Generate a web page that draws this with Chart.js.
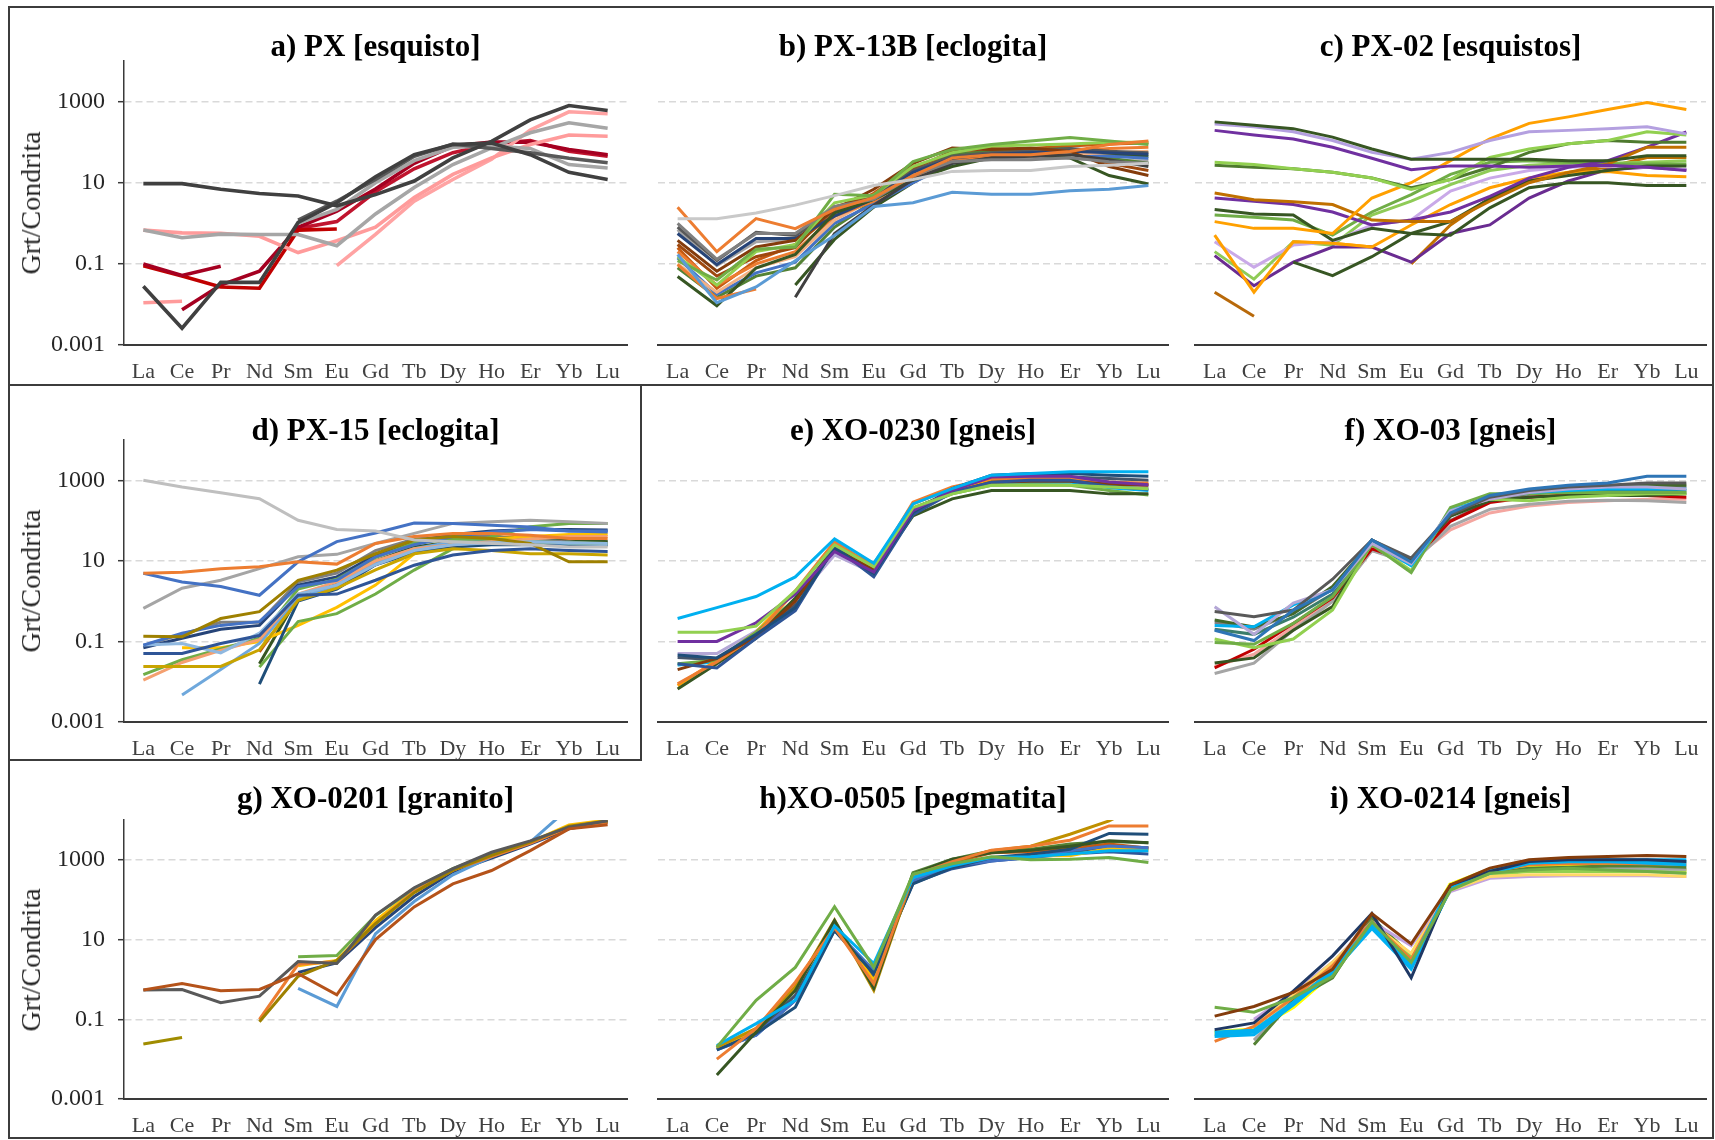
<!DOCTYPE html>
<html>
<head>
<meta charset="utf-8">
<title>Grt/Condrita - REE</title>
<script src="https://cdn.jsdelivr.net/npm/chart.js@4.4.1/dist/chart.umd.min.js"></script>
<style>
    html, body { margin: 0; padding: 0; background: #fff; }
    #fig { position: relative; width: 1715px; height: 1140px; overflow: hidden; font-family: "Liberation Serif", "Times New Roman", serif; }
    .line { position: absolute; background: #3c3c3c; }
    .panel { position: absolute; }
    .ttl { position: absolute; width: 600px; margin-left: -300px; text-align: center; font-weight: bold; font-size: 31px; line-height: 34px; color: #000; white-space: nowrap; }
    .ytl { position: absolute; font-size: 28px; color: #262626; white-space: nowrap; transform: translate(-50%, -50%) rotate(-90deg); }
</style>
</head>
<body>
<div id="fig"></div>
<script>
const elements = ['La', 'Ce', 'Pr', 'Nd', 'Sm', 'Eu', 'Gd', 'Tb', 'Dy', 'Ho', 'Er', 'Yb', 'Lu'];
const yTickValues = [0.001, 0.1, 10, 1000];
const yTitle = 'Grt/Condrita';
const panelTitles = [
    'a) PX [esquisto]', 'b) PX-13B [eclogita]', 'c) PX-02 [esquistos]',
    'd) PX-15 [eclogita]', 'e) XO-0230 [gneis]', 'f) XO-03 [gneis]',
    'g) XO-0201 [granito]', 'h)XO-0505 [pegmatita]', 'i) XO-0214 [gneis]'
];
const _ = null;

// a) PX
const aValues = [
    [9.5, 9.5, 6.9, 5.4, 4.7, 2.7, 5.1, 11, 41, 105, 355, 800, 600],
    [0.028, 0.0026, 0.035, 0.035, 1.05, 3.2, 14, 49, 87, 95, 49, 18, 12],
    [_, _, _, _, 1.2, 3.5, 12, 45, 90, 70, 55, 40, 31],
    [0.68, 0.44, 0.54, 0.53, 0.53, 0.28, 1.7, 7.6, 28, 72, 170, 300, 220],
    [_, _, _, _, 1.0, 2.2, 10, 35, 75, 80, 70, 28, 23],
    [0.68, 0.58, 0.57, 0.48, 0.19, 0.37, 0.8, 4.3, 16, 41, 87, 150, 140],
    [_, _, _, _, _, 0.09, 0.53, 3.5, 12, 38, 200, 560, 500],
    [0.011, 0.012, _, _, _, _, _, _, _, _, _, _, _],
    [0.1, 0.052, 0.087, _, _, _, _, _, _, _, _, _, _],
    [0.09, 0.05, 0.027, 0.025, 0.68, 0.72, _, _, _, _, _, _, _],
    [_, 0.0074, 0.03, 0.066, 0.8, 2.0, 7, 30, 80, 100, 100, 66, 49],
    [_, _, _, _, 0.75, 1.1, 6, 22, 55, 90, 110, 60, 45]
];
const aColors = ['#404040', '#404040', '#595959', '#a6a6a6', '#a6a6a6', '#ff9b9b', '#ffa3a3', '#ff9b9b', '#a50021', '#c00000', '#a50021', '#c0142e'];

// b) PX-13B
const bValues = [
    [1.3, 1.3, 1.8, 2.8, 4.8, 8.5, 12, 19, 20, 20, 25, 27, 30],
    [0.17, 0.011, 0.027, 0.12, 0.5, 2.6, 3.2, 5.8, 5.2, 5.2, 6.3, 6.9, 8.5],
    [2.5, 0.2, 1.3, 0.74, 2.2, 4.3, 15, 41, 49, 49, 59, 87, 107],
    [0.096, 0.014, 0.024, _, _, _, _, _, _, _, _, _, _],
    [1.0, 0.13, 0.56, 0.56, 2.6, 3.9, 15, 33, 37, 37, 41, 33, 30],
    [_, _, _, 0.015, 0.56, 2.8, 12, 30, 41, 45, 49, 37, 25],
    [0.049, 0.0093, 0.079, 0.17, 1.8, 3.9, 11.5, 25, 41, 49, 41, 15, 9.3],
    [0.12, 0.04, 0.23, 0.26, 5.2, 4.8, 33, 66, 87, 107, 130, 107, 87],
    [0.15, 0.03, 0.2, 0.3, 3.2, 5, 25, 55, 80, 85, 90, 100, 100],
    [0.38, 0.066, 0.26, 0.38, 2.2, 6.9, 30, 72, 66, 72, 59, 25, 15],
    [0.56, 0.096, 0.42, 0.42, 1.5, 4.0, 18, 40, 50, 55, 60, 55, 50],
    [0.8, 0.12, 0.6, 0.5, 2.0, 4.5, 20, 45, 55, 60, 70, 60, 55],
    [0.2, 0.03, 0.1, 0.2, 1.5, 3.5, 14, 35, 45, 50, 60, 70, 75],
    [0.1, 0.02, 0.08, 0.15, 1.2, 4, 16, 38, 45, 45, 50, 55, 60],
    [0.14, 0.018, 0.06, 0.11, 1.0, 3.0, 10, 30, 40, 45, 50, 45, 40],
    [0.3, 0.05, 0.15, 0.25, 2.5, 5, 22, 60, 70, 65, 55, 30, 20],
    [0.08, 0.015, 0.05, 0.08, 0.8, 3.5, 18, 50, 60, 65, 70, 40, 30],
    [_, _, _, 0.03, 0.4, 2.5, 10, 35, 45, 45, 55, 50, 45],
    [0.25, 0.025, 0.12, 0.3, 1.8, 5.5, 25, 50, 60, 70, 80, 90, 95],
    [0.7, 0.09, 0.35, 0.4, 1.5, 3.5, 15, 35, 40, 40, 40, 35, 35]
];
const bColors = ['#c9c9c9', '#5b9bd5', '#ed7d31', '#ed7d31', '#7f7f7f', '#404040', '#375623', '#70ad47', '#92d050', '#843c0c',
    '#264478', '#595959', '#ed7d31', '#f4b183', '#4472c4', '#9e480e', '#548235', '#375623', '#c55a11', '#a5a5a5'];

// c) PX-02
const cValues = [
    [316, 260, 215, 133, 68, 38, 38, 38, 38, 35, 35, 46, 46],
    [280, 240, 180, 110, 56, 38, 56, 110, 180, 195, 215, 240, 160],
    [195, 150, 120, 75, 40, 21, 26, 26, 24, 26, 27, 24, 20],
    [32, 28, 22, 18, 13, 6.8, 12, 42, 68, 91, 110, 180, 150],
    [27, 24, 22, 18, 13, 7.5, 12, 24, 56, 91, 110, 100, 100],
    [1.1, 0.75, 0.75, 0.56, 4.2, 10, 35, 121, 290, 420, 640, 950, 640],
    [5.6, 3.8, 3.4, 2.9, 1.2, 1.1, 1.1, 3.5, 10, 18, 29, 75, 75],
    [4.2, 3.5, 2.9, 1.9, 0.91, 1.2, 1.9, 4.6, 13, 24, 35, 75, 178],
    [2.2, 1.7, 1.6, 0.38, 0.75, 0.56, 0.51, 2.4, 7.5, 10, 10, 8.5, 8.5],
    [_, _, 0.11, 0.051, 0.15, 0.56, 1.1, 4, 11, 15, 20, 26, 26],
    [1.6, 1.4, 1.2, 0.51, 1.9, 5.1, 16, 32, 35, 32, 29, 29, 29],
    [0.51, 0.02, 0.35, 0.32, 0.26, 0.91, 2.9, 7.5, 13, 18, 19, 15, 14],
    [0.35, 0.083, 0.29, 0.35, 0.91, 1.2, 6.2, 13, 20, 24, 26, 24, 21],
    [0.16, 0.029, 0.11, 0.26, 0.26, 0.11, 0.56, 0.91, 4.2, 11, 21, 24, 21],
    [0.2, 0.042, 0.35, 0.29, 1.6, 3.5, 9, 20, 27, 30, 30, 32, 35],
    [0.02, 0.0051, _, _, _, _, _, _, _, _, _, _, _],
    [_, _, _, _, _, 0.1, 0.91, 4.2, 11, 18, 24, 42, 42],
    [_, _, 0.35, 0.32, 0.26, _, _, _, _, _, _, _, _]
];
const cColors = ['#375623', '#b4a0e0', '#7030a0', '#92d050', '#4e7a2e', '#ffa000', '#c07000', '#7030a0', '#375623',
    '#375623', '#70ad47', '#ffa000', '#c9a9e8', '#6a2c91', '#8fcb57', '#b8690a', '#c07000', '#ffa000'];

// d) PX-15
const dValues = [
    [1000, 680, 490, 350, 102, 60, 55, 33, 30, 27, 25, 22, 22],
    [4.9, 5.2, 6.4, 7.1, 9.5, 8.3, 27, 40, 48, 48, 43, 36, 36],
    [4.9, 3.0, 2.3, 1.4, 9.5, 30, 49, 87, 85, 77, 69, 55, 52],
    [0.66, 2.1, 3.3, 6.4, 12.6, 14.5, 27, 48, 85, 93, 102, 93, 85],
    [0.135, 0.13, 0.37, 0.55, 3.3, 5.9, 15, 33, 40, 36, 27, 9.5, 9.5],
    [0.081, 0.16, 0.25, 0.31, 2.3, 3.3, 12.6, 25, 40, 52, 60, 55, 55],
    [0.05, 0.05, 0.089, 0.14, 1.4, 1.5, 3.3, 7.8, 14, 18, 20, 18, 17],
    [0.081, 0.089, 0.052, 0.16, 1.5, 2.5, 8, 18, 25, 28, 30, 28, 27],
    [0.024, 0.024, 0.024, 0.062, 1.05, 2.1, 6, 15, 20, 18, 15, 15, 14],
    [0.011, 0.03, 0.06, 0.11, 1.5, 3, 10, 20, 25, 30, 35, 40, 40],
    [0.015, 0.035, 0.065, 0.12, 2.0, 3.5, 12, 28, 35, 35, 30, 28, 27],
    [_, 0.0047, 0.02, 0.089, 1.2, 2.5, 9, 20, 30, 30, 30, 27, 25],
    [_, _, _, 0.0087, 1.0, 2, 8, 16, 22, 25, 25, 25, 25],
    [_, _, _, 0.023, 0.31, 0.49, 1.5, 5.9, 20, 40, 70, 85, 85],
    [_, 0.07, 0.07, 0.1, 0.25, 0.7, 2.5, 15, 30, 35, 40, 45, 45],
    [_, _, _, 0.028, 1.3, 3, 10, 22, 30, 35, 40, 35, 30],
    [_, _, _, 0.055, 1.2, 2.5, 8, 20, 30, 30, 28, 25, 25],
    [0.07, 0.12, 0.2, 0.25, 2.5, 4, 14, 30, 45, 55, 60, 60, 58],
    [0.08, 0.15, 0.3, 0.3, 3, 5, 18, 35, 40, 40, 35, 30, 30]
];
const dColors = ['#bfbfbf', '#ed7d31', '#4472c4', '#a5a5a5', '#9e8000', '#4472c4', '#2f5597', '#8fb8e0', '#c9a400', '#f4a070',
    '#70ad47', '#6fa8dc', '#1f4e79', '#70ad47', '#ffc000', '#375623', '#c55a11', '#264478', '#7f7f7f'];

// e) XO-0230
const eValues = [
    [0.37, 0.69, 1.3, 4.0, 35, 8.7, 260, 620, 1340, 1470, 1620, 1620, 1620],
    [0.17, 0.17, 0.24, 1.8, 25, 7.1, 210, 460, 750, 750, 750, 680, 620],
    [0.1, 0.1, 0.29, 1.5, 17, 5.3, 175, 560, 1200, 1260, 1260, 910, 780],
    [0.046, 0.039, 0.15, 0.69, 21, 4.8, 160, 620, 1340, 1470, 1470, 1340, 1260],
    [0.028, 0.022, 0.12, 0.58, 22, 4.0, 140, 500, 900, 1000, 1000, 700, 600],
    [0.02, 0.038, 0.13, 1.0, 20, 6, 200, 500, 900, 950, 950, 800, 750],
    [0.0089, 0.031, 0.14, 1.8, 30, 7.1, 285, 680, 1100, 1100, 1100, 910, 850],
    [0.0066, 0.028, 0.12, 1.2, 21, 5.3, 130, 345, 560, 560, 560, 460, 460],
    [0.028, 0.034, 0.17, 1.1, 21, 8.7, 190, 460, 750, 780, 750, 560, 430],
    [0.008, 0.034, 0.17, 1.7, 28, 6.5, 260, 620, 1000, 1000, 1000, 850, 800],
    [0.026, 0.031, 0.13, 0.63, 30, 6, 200, 510, 900, 900, 900, 650, 560],
    [0.05, 0.05, 0.18, 1.0, 14, 5, 180, 500, 900, 1000, 1000, 800, 700],
    [0.04, 0.035, 0.15, 0.8, 18, 5, 170, 550, 1100, 1200, 1200, 1100, 1000]
];
const eColors = ['#00b0f0', '#92d050', '#7030a0', '#1f4e79', '#2f5597', '#843c0c', '#ed7d31', '#375623', '#70ad47', '#ffa000',
    '#00b0f0', '#b4a7d6', '#44546a'];

// f) XO-03
const fValues = [
    [0.19, 0.105, 0.6, 1.9, 33, 9.3, 155, 420, 610, 750, 860, 1260, 1260],
    [0.55, 0.41, 0.6, 3.5, 33, 11.7, 140, 380, 560, 680, 750, 860, 860],
    [0.73, 0.15, 0.89, 1.9, 27, 8.4, 175, 340, 500, 610, 680, 680, 610],
    [0.25, 0.23, 0.81, 1.9, 30, 7.6, 175, 380, 500, 560, 610, 610, 610],
    [0.094, 0.085, 0.28, 1.3, 25, 5.1, 210, 460, 460, 500, 500, 500, 500],
    [0.115, 0.07, 0.115, 0.6, 27, 5.7, 190, 340, 310, 380, 420, 460, 460],
    [0.029, 0.039, 0.19, 0.73, 33, 10.2, 130, 310, 380, 420, 420, 420, 460],
    [0.022, 0.064, 0.28, 1.2, 20, 9.3, 96, 280, 380, 440, 480, 420, 380],
    [0.016, 0.029, 0.19, 0.98, 18, 8.4, 72, 190, 255, 300, 320, 310, 280],
    [0.024, 0.048, 0.23, 1.07, 18, 10.2, 59, 155, 230, 280, 310, 340, 340],
    [0.34, 0.23, 0.49, 2.3, 30, 10, 150, 400, 550, 650, 700, 750, 750],
    [0.2, 0.15, 0.4, 1.5, 25, 8, 130, 350, 480, 520, 560, 560, 560],
    [0.3, 0.2, 0.5, 2.0, 28, 9, 100, 300, 450, 550, 600, 650, 700]
];
const fColors = ['#2e75b6', '#595959', '#b4a7d6', '#00b0f0', '#70ad47', '#92d050', '#375623', '#c00000', '#a5a5a5', '#f4a6a0',
    '#43682b', '#3b7d6b', '#7f7f7f'];

// g) XO-0201
const gValues = [
    [0.54, 0.79, 0.52, 0.56, 1.4, 0.41, 10, 66, 250, 540, 1700, 6000, 7600],
    [0.54, 0.56, 0.26, 0.38, 2.8, 2.5, 41, 200, 600, 1550, 3000, 6600, 9600],
    [0.024, 0.035, _, _, _, _, _, _, _, _, _, _, _],
    [_, _, _, 0.087, 1.2, 3.0, 25, 150, 550, 1300, 2800, 7000, 9500],
    [_, _, _, 0.1, 2.4, 2.8, 25, 160, 550, 1200, 2600, 6500, 8800],
    [_, _, _, _, 0.6, 0.21, 14, 90, 420, 1200, 2800, 20000, 20000],
    [_, _, _, _, 3.7, 4.0, 40, 190, 600, 1400, 2800, 6500, 9000],
    [_, _, _, _, 2.2, 3.0, 30, 170, 550, 1300, 2800, 7500, 10000],
    [_, _, _, _, 1.5, 2.6, 20, 120, 500, 1100, 2500, 6000, 9000]
];
const gColors = ['#b5531a', '#595959', '#a08c00', '#9e8000', '#ed7d31', '#5b9bd5', '#70ad47', '#ffc000', '#264478'];

// h) XO-0505
const hValues = [
    [_, 0.02, 0.3, 2.0, 67, 2.0, 440, 800, 1200, 1000, 1040, 1140, 860],
    [_, 0.022, 0.078, 0.3, 22, 2.5, 360, 710, 1140, 1200, 1400, 1700, 1700],
    [_, 0.01, 0.059, 0.85, 20, 0.78, 400, 900, 1750, 2200, 3100, 7100, 7100],
    [_, 0.004, 0.048, 0.53, 30, 0.6, 440, 1040, 1500, 1750, 2200, 3000, 2700],
    [_, 0.02, 0.059, 0.65, 31, 0.53, 400, 940, 1700, 2200, 4400, 9500, 30000],
    [_, 0.017, 0.044, 0.2, 17, 1.4, 250, 640, 1140, 1390, 1850, 4600, 4400],
    [_, 0.017, 0.04, 0.3, 18, 1.7, 300, 710, 940, 1140, 1680, 2240, 2000],
    [_, 0.019, 0.048, 0.65, 22, 0.94, 330, 710, 1140, 1260, 1260, 1950, 1750],
    [_, 0.018, 0.04, 0.3, 17, 1.4, 260, 600, 940, 1140, 1400, 1600, 1400],
    [_, 0.02, 0.046, 0.65, 27, 0.85, 360, 860, 1500, 1600, 1950, 2500, 1950],
    [_, 0.019, 0.05, 0.6, 28, 0.7, 480, 1040, 1700, 1850, 2500, 2900, 2700],
    [_, 0.02, 0.045, 0.4, 19, 1.2, 280, 640, 1000, 1200, 1500, 2200, 2000]
];
const hColors = ['#70ad47', '#00b0f0', '#ed7d31', '#375623', '#bf9000', '#1f4e79', '#4472c4', '#ffc000', '#2f5597', '#c55a11',
    '#548235', '#44546a'];

// i) XO-0214
const iValues = [
    [0.12, 0.21, 0.47, 1.8, 45, 7.8, 235, 620, 1000, 1150, 1210, 1290, 1210],
    [0.2, 0.15, 0.35, 1.2, 28, 2.7, 175, 460, 560, 620, 560, 510, 460],
    [0.055, 0.081, 0.51, 3.9, 45, 1.1, 235, 510, 910, 1000, 1000, 1000, 910],
    [0.037, 0.041, 0.23, 1.5, 19, 1.8, 190, 460, 820, 910, 910, 820, 750],
    [0.045, 0.05, 0.25, 1.6, 22, 2.2, 210, 510, 900, 950, 950, 950, 950],
    [0.028, 0.066, 0.35, 2.2, 28, 3.2, 200, 500, 750, 800, 820, 800, 780],
    [_, 0.066, 0.4, 2.7, 25, 4.5, 175, 380, 420, 420, 420, 420, 380],
    [_, 0.1, 0.47, 2.7, 28, 7, 160, 345, 380, 400, 400, 400, 380],
    [_, 0.045, 0.26, 1.8, 25, 3.9, 190, 420, 510, 510, 510, 510, 460],
    [_, 0.023, 0.3, 1.1, 35, 3.9, 200, 460, 620, 650, 700, 700, 650],
    [_, 0.03, 0.3, 1.5, 30, 4, 180, 450, 600, 620, 620, 600, 580],
    [0.04, 0.05, 0.3, 1.6, 25, 3.5, 200, 450, 580, 600, 600, 580, 560],
    [0.045, 0.055, 0.21, 1.5, 28, 3.9, 235, 560, 750, 750, 750, 620, 510]
];
const iColors = ['#843c0c', '#70ad47', '#1f3864', '#00b0f0', '#00b0f0', '#ed7d31', '#ffd966', '#c3a3df', '#92d050', '#548235',
    '#a5a5a5', '#a9d18e', '#ffff00'];

const panelValues = [aValues, bValues, cValues, dValues, eValues, fValues, gValues, hValues, iValues];
const panelColors = [aColors, bColors, cColors, dColors, eColors, fColors, gColors, hColors, iColors];

// plot area boxes (page pixels)
const cols = [{ left: 124, right: 627 }, { left: 658, right: 1168 }, { left: 1195, right: 1706 }];
const rows = [{ top: 61, bottom: 345 }, { top: 440, bottom: 722 }, { top: 820, bottom: 1099 }];
const titleY = [46, 430, 798];

const fig = document.getElementById('fig');
const serif = '"Liberation Serif", "Times New Roman", serif';

function addLine(x, y, w, h) {
    const d = document.createElement('div');
    d.className = 'line';
    d.style.left = x + 'px'; d.style.top = y + 'px';
    d.style.width = w + 'px'; d.style.height = h + 'px';
    fig.appendChild(d);
}

// frame lines
addLine(8, 6, 1706, 2);
addLine(8, 1137, 1706, 2);
addLine(8, 6, 2, 1133);
addLine(1712, 6, 2, 1133);
addLine(8, 384, 1706, 2);
addLine(640, 384, 2, 377);
addLine(8, 759, 634, 2);

function makePanel(idx) {
    const col = cols[idx % 3];
    const row = rows[Math.floor(idx / 3)];
    const hasY = idx % 3 === 0;
    const yW = hasY ? 84 : 8;
    const padTop = 16, padRight = 6, xH = 48;
    const left = col.left - yW;
    const top = row.top - padTop;
    const width = col.right + padRight - left;
    const height = row.bottom + xH - top;

    const canvas = document.createElement('canvas');
    canvas.className = 'panel';
    canvas.width = width; canvas.height = height;
    canvas.style.left = left + 'px'; canvas.style.top = top + 'px';
    canvas.style.width = width + 'px'; canvas.style.height = height + 'px';
    fig.appendChild(canvas);

    const lw = idx === 0 ? 3.6 : 3.0;
    const colors = panelColors[idx];
    const datasets = panelValues[idx].map((vals, k) => ({
        data: vals,
        borderColor: colors[k],
        borderWidth: (idx === 8 && (k === 4 || k === 12)) ? 5 : lw,
        pointRadius: 0,
        tension: 0,
        fill: false,
        spanGaps: false
    }));

    new Chart(canvas, {
        type: 'line',
        data: { labels: elements, datasets: datasets },
        options: {
            responsive: false,
            animation: false,
            devicePixelRatio: 1,
            layout: { padding: { top: padTop, right: padRight, left: 0, bottom: 0 } },
            plugins: { legend: { display: false }, tooltip: { enabled: false }, title: { display: false } },
            scales: {
                x: {
                    offset: true,
                    grid: { display: false, drawTicks: false },
                    border: { display: true, color: '#3a3a3a', width: 2 },
                    ticks: { color: '#404040', font: { family: serif, size: 22 }, padding: 14, maxRotation: 0, autoSkip: false },
                    afterFit: s => { s.height = xH; s.paddingLeft = 0; s.paddingRight = 0; }
                },
                y: {
                    type: 'logarithmic',
                    min: 0.001,
                    max: 10000,
                    afterBuildTicks: axis => { axis.ticks = yTickValues.map(v => ({ value: v })); },
                    grid: {
                        color: c => (c.tick && c.tick.value === 0.001) ? 'rgba(0,0,0,0)' : '#d9d9d9',
                        lineWidth: 1.4,
                        drawTicks: hasY,
                        tickLength: 6,
                        tickColor: '#3a3a3a',
                        tickWidth: 1.5
                    },
                    border: { display: hasY, color: '#3a3a3a', width: 1.5, dash: [7, 4] },
                    ticks: {
                        display: hasY,
                        color: '#262626',
                        font: { family: serif, size: 24 },
                        padding: 13,
                        callback: v => String(v)
                    },
                    // fixed axis width, no extra label padding above/below the plot area
                    afterFit: s => { s.width = yW; s.paddingTop = 0; s.paddingBottom = 0; }
                }
            }
        }
    });

    // panel title
    const t = document.createElement('div');
    t.className = 'ttl';
    t.textContent = panelTitles[idx];
    t.style.left = ((col.left + col.right) / 2) + 'px';
    t.style.top = (titleY[Math.floor(idx / 3)] - 17) + 'px';
    fig.appendChild(t);

    if (hasY) {
        const yt = document.createElement('div');
        yt.className = 'ytl';
        yt.textContent = yTitle;
        yt.style.left = '31px';
        yt.style.top = ((row.top + row.bottom) / 2) + 'px';
        fig.appendChild(yt);
    }
}

for (let i = 0; i < 9; i++) makePanel(i);
</script>
</body>
</html>
